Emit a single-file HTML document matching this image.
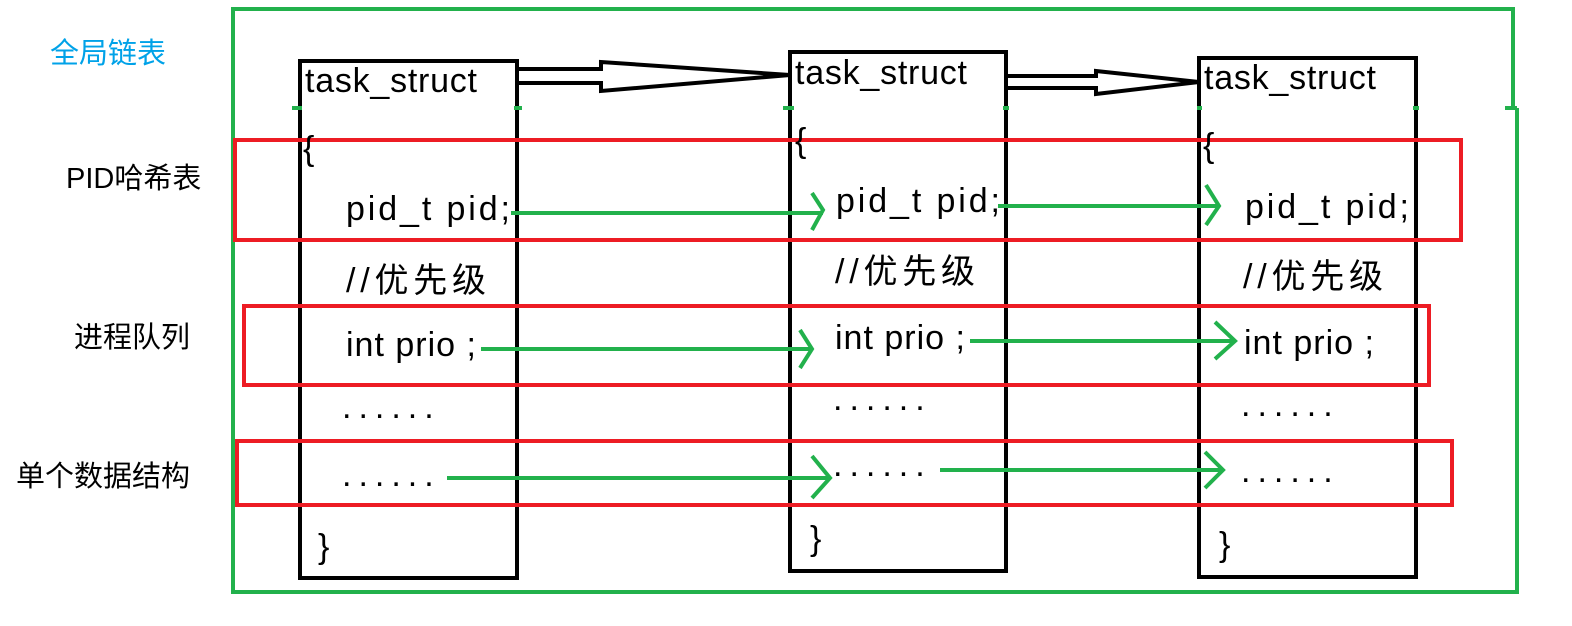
<!DOCTYPE html>
<html><head><meta charset="utf-8"><style>
body{margin:0;background:#fff;width:1572px;height:621px;overflow:hidden}
svg text{font-family:"Liberation Sans","Noto Sans CJK SC",sans-serif}
</style></head><body>
<svg width="1572" height="621" xmlns="http://www.w3.org/2000/svg">
<g fill="none" stroke-linejoin="miter">
<path d="M233,110 V9 H1513 V108 M233,110 V592 H1517 V108" stroke="#22b14c" stroke-width="4"/>
<rect x="300" y="61" width="217" height="517" stroke="#000" stroke-width="4"/>
<rect x="790" y="52" width="216" height="519" stroke="#000" stroke-width="4"/>
<rect x="1199" y="58" width="217" height="519" stroke="#000" stroke-width="4"/>
<g stroke="#22b14c" stroke-width="4">
<path d="M292,108 H302 M514,108 H522 M783,108 H794 M1003,108 H1009 M1197,108 H1202 M1413,108 H1419 M1505,108 H1517"/>
</g>
<rect x="235" y="140" width="1226" height="100" stroke="#ed1c24" stroke-width="4"/>
<rect x="244" y="306" width="1185" height="79" stroke="#ed1c24" stroke-width="4"/>
<rect x="237" y="441" width="1215" height="64" stroke="#ed1c24" stroke-width="4"/>
<path d="M519,69 H601 V62 L790,75 L601,91 V83 H519" stroke="#000" stroke-width="4"/>
<path d="M1008,76 H1096 V71 L1199,82 L1096,94 V88 H1008" stroke="#000" stroke-width="4"/>
<g stroke="#22b14c" stroke-width="4">
<path d="M511,213 H823 M812,193 L823,210 L812,230"/>
<path d="M998,206 H1219 M1206,185 L1219,206 L1206,225"/>
<path d="M481,349 H812 M800,330 L812,349 L800,368"/>
<path d="M970,341 H1235 M1215,322 L1235,341 L1215,359"/>
<path d="M447,478 H830 M812,456 L830,478 L812,498"/>
<path d="M940,470 H1223 M1205,452 L1223,470 L1205,488"/>
</g>
</g>
<g font-size="34" fill="#000" xml:space="preserve">
<text x="305" y="92" textLength="172">task_struct</text>
<text x="795" y="84" textLength="172">task_struct</text>
<text x="1204" y="89" textLength="172">task_struct</text>
<text x="303" y="160">{</text><text x="795" y="152">{</text><text x="1203" y="157">{</text>
<text x="346" y="220" textLength="164">pid_t  pid;</text><text x="836" y="212" textLength="164">pid_t  pid;</text><text x="1245" y="218" textLength="164">pid_t  pid;</text>
<text x="346" y="292" textLength="140">//优先级</text><text x="835" y="283" textLength="140">//优先级</text><text x="1243" y="288" textLength="140">//优先级</text>
<text x="346" y="356" textLength="130">int prio ;</text><text x="835" y="349" textLength="130">int prio ;</text><text x="1244" y="354" textLength="130">int prio ;</text>
<text x="342" y="418" letter-spacing="7">......</text><text x="833" y="410" letter-spacing="7">......</text><text x="1241" y="416" letter-spacing="7">......</text>
<text x="342" y="486" letter-spacing="7">......</text><text x="833" y="476" letter-spacing="7">......</text><text x="1241" y="482" letter-spacing="7">......</text>
<text x="318" y="558">}</text><text x="810" y="550">}</text><text x="1219" y="556">}</text>
</g>
<g font-size="29">
<text x="50" y="63" fill="#00a2e8">全局链表</text>
<text x="66" y="188" fill="#000">PID哈希表</text>
<text x="74" y="347" fill="#000">进程队列</text>
<text x="16" y="486" fill="#000">单个数据结构</text>
</g>
</svg>
</body></html>
